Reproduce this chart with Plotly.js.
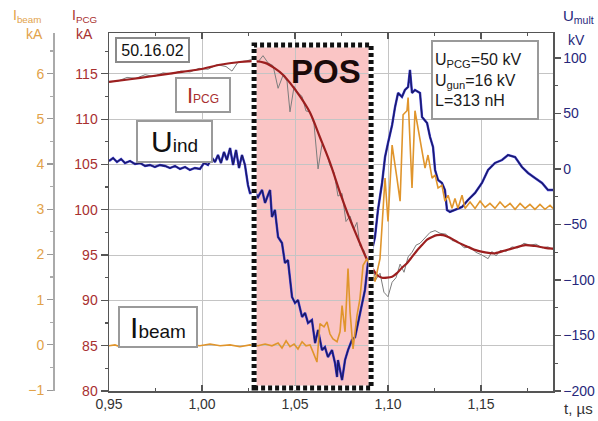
<!DOCTYPE html>
<html><head><meta charset="utf-8">
<script src="https://cdn.plot.ly/plotly-3.0.1.min.js"></script>
<style>html,body{margin:0;padding:0;background:#fff}</style>
</head><body><div id="chart" style="width:598px;height:421px"></div>
<script>
// ---- data (time in µs) ----
const uT = [0.9500,0.9522,0.9543,0.9565,0.9586,0.9613,0.9640,0.9667,0.9694,0.9720,0.9747,0.9774,0.9801,0.9828,0.9855,0.9882,0.9909,0.9935,0.9962,0.9989,
1.0011,1.0032,1.0054,1.0070,1.0086,1.0102,1.0118,1.0134,1.0151,1.0167,1.0183,1.0199,1.0215,1.0231,1.0247,1.0258,1.0285,1.0301,1.0323,1.0339,
1.0355,1.0366,1.0376,1.0392,1.0409,1.0430,1.0446,1.0462,1.0484,1.0500,1.0516,1.0538,1.0554,1.0570,1.0591,1.0608,1.0624,1.0645,1.0661,1.0677,
1.0699,1.0715,1.0726,1.0731,1.0753,1.0769,1.0785,1.0806,1.0823,1.0839,1.0860,1.0876,1.0892,1.0914,1.0930,1.0946,1.0968,1.0984,1.1000,1.1022,
1.1038,1.1054,1.1075,1.1091,1.1108,1.1118,1.1129,1.1145,1.1172,1.1183,1.1210,1.1226,1.1242,1.1253,1.1269,1.1290,1.1306,1.1317,1.1333,1.1360,
1.1398,1.1430,1.1468,1.1505,1.1538,1.1575,1.1613,1.1645,1.1683,1.1720,1.1753,1.1790,1.1828,1.1860,1.1887];
const uV = [7.2,9.9,6.3,9.0,5.4,7.2,4.5,5.4,2.7,3.6,1.8,3.6,2.7,0.9,2.7,0.0,1.8,-0.9,0.9,0.0,
5.4,3.6,9.9,6.3,12.6,5.4,15.3,8.1,18.9,3.6,17.1,0.9,12.6,3.6,-14.4,-21.6,-21.6,-25.2,-18.9,-30.6,
-23.4,-18.9,-43.2,-36.9,-61.3,-66.7,-84.7,-82.0,-115.3,-120.7,-118.0,-133.3,-129.7,-138.7,-136.0,-156.8,-145.0,-163.1,-160.4,-169.4,
-163.1,-174.8,-187.4,-172.1,-190.1,-172.1,-163.1,-154.1,-151.4,-138.7,-124.3,-109.0,-84.7,-73.0,-61.3,-36.9,-12.6,10.8,23.4,39.6,
55.9,68.5,64.9,71.2,73.9,89.2,68.5,71.2,68.5,46.8,41.4,28.8,19.8,-0.9,-9.9,-12.6,-18.9,-36.9,-38.7,-36.9,
-34.2,-27.9,-21.6,-12.6,-0.9,5.4,8.1,12.6,10.8,1.8,-3.6,-8.1,-12.6,-18.9,-18.9];

const beamT = [0.9500,0.9532,0.9559,0.9613,0.9667,0.9720,0.9774,0.9828,0.9882,0.9935,0.9989,1.0043,1.0097,1.0151,1.0204,1.0258,1.0301,1.0339,1.0376,1.0409,
1.0430,1.0452,1.0473,1.0495,1.0516,1.0538,1.0559,1.0581,1.0597,1.0618,1.0634,1.0656,1.0672,1.0688,1.0704,1.0726,1.0742,1.0753,1.0769,1.0785,
1.0796,1.0812,1.0833,1.0849,1.0866,1.0887,1.0909,1.0930,1.0957,1.0984,1.1000,1.1022,1.1048,1.1065,1.1081,1.1102,1.1108,1.1129,1.1145,1.1161,
1.1183,1.1199,1.1215,1.1237,1.1253,1.1269,1.1290,1.1306,1.1323,1.1344,1.1360,1.1376,1.1398,1.1414,1.1441,1.1468,1.1495,1.1522,1.1548,1.1575,
1.1602,1.1629,1.1656,1.1683,1.1710,1.1737,1.1763,1.1790,1.1817,1.1844,1.1871,1.1887];
const beamV = [-0.02,0.00,-0.04,0.01,-0.02,0.02,-0.02,0.00,-0.04,0.00,-0.02,0.02,-0.02,0.00,-0.04,0.00,-0.02,0.02,-0.02,0.04,
-0.07,0.09,-0.04,0.02,-0.09,0.07,-0.02,0.00,-0.16,-0.38,0.47,0.40,0.51,0.24,0.13,0.07,0.29,0.87,0.29,1.69,
0.73,-0.09,0.64,1.02,1.76,1.91,1.69,1.40,1.91,3.69,2.73,4.42,3.69,3.18,5.09,5.18,5.47,3.47,5.18,4.80,
4.36,3.91,4.20,3.69,3.76,3.47,3.53,3.18,3.31,3.02,3.24,3.02,3.31,3.02,3.16,3.02,3.18,3.04,3.13,3.02,
3.16,3.04,3.13,3.00,3.13,3.02,3.11,3.00,3.11,3.00,3.09,3.02];

const ipcgT = [0.9500,0.9613,0.9720,0.9855,0.9989,1.0097,1.0204,1.0285,1.0339,1.0392,1.0435,1.0473,1.0527,1.0581,1.0634,1.0688,1.0742,1.0796,1.0849,1.0887,
1.0914,1.0941,1.0968,1.0995,1.1022,1.1048,1.1075,1.1102,1.1129,1.1156,1.1183,1.1210,1.1237,1.1263,1.1296,1.1333,1.1376,1.1419,1.1462,1.1522,
1.1575,1.1629,1.1683,1.1737,1.1790,1.1844,1.1887];
const ipcgV = [114.1,114.4,114.7,115.1,115.5,116.0,116.3,116.4,116.2,115.6,114.9,114.0,112.5,110.7,108.0,105.2,101.9,98.9,96.3,94.5,
93.6,92.8,92.5,92.5,92.6,93.0,93.6,94.1,94.8,95.5,96.1,96.7,97.0,97.2,97.2,96.9,96.4,96.0,95.6,95.3,
95.2,95.5,95.8,96.1,96.0,95.8,95.7];

const rawT = [0.9500,0.9548,0.9597,0.9645,0.9694,0.9742,0.9790,0.9839,0.9887,0.9935,0.9984,1.0032,1.0081,1.0129,1.0161,1.0194,1.0237,1.0269,1.0301,1.0328,
1.0355,1.0382,1.0409,1.0435,1.0457,1.0473,1.0495,1.0516,1.0538,1.0559,1.0581,1.0602,1.0624,1.0645,1.0667,1.0688,1.0710,1.0731,1.0753,1.0774,
1.0796,1.0817,1.0833,1.0849,1.0871,1.0892,1.0914,1.0935,1.0957,1.0978,1.1000,1.1022,1.1043,1.1065,1.1086,1.1108,1.1129,1.1151,1.1172,1.1199,
1.1226,1.1253,1.1280,1.1312,1.1344,1.1376,1.1409,1.1441,1.1473,1.1505,1.1538,1.1559,1.1581,1.1602,1.1634,1.1667,1.1699,1.1731,1.1763,1.1796,
1.1828,1.1860,1.1887];
const rawV = [114.1,114.2,114.6,114.5,114.9,114.7,115.1,115.0,115.3,115.2,115.6,115.5,116.0,115.8,115.3,116.3,116.4,116.6,116.3,117.0,
116.2,115.9,113.4,114.8,114.2,110.8,113.6,112.9,112.5,110.9,110.8,109.5,104.5,107.2,106.4,104.9,104.1,101.5,101.8,98.7,
99.3,97.9,98.6,96.0,95.5,94.2,93.8,92.3,93.0,90.9,90.4,92.0,92.5,94.0,93.1,94.8,95.3,96.1,96.3,96.9,
97.5,97.7,97.4,97.3,96.6,96.5,95.8,95.9,95.3,95.0,94.6,95.4,94.9,95.5,95.4,95.9,95.8,96.3,96.1,96.2,
95.8,95.9,95.6];

const posStart = 1.028, posEnd = 1.0909;

// ---- layout helpers (pixel -> paper) ----
const PW = 553, PT = 33, PB = 391;
const PX = x => x / PW;
const PY = y => (PB - y) / (PB - PT);

const F = 'Liberation Sans, Arial, sans-serif';
const RED = '#a8302f', ORANGE = '#e2a24a', NAVY = '#27277a';

const traces = [
  {x: rawT, y: rawV, type: 'scatter', mode: 'lines', yaxis: 'y', line: {color: '#7d7d7d', width: 1}, hoverinfo: 'skip'},
  {x: ipcgT, y: ipcgV, type: 'scatter', mode: 'lines', yaxis: 'y', line: {color: '#9c1f1f', width: 2.2, shape: 'spline', smoothing: 0.8}},
  {x: beamT, y: beamV, type: 'scatter', mode: 'lines', yaxis: 'y3', line: {color: '#e0952c', width: 1.6}},
  {x: uT, y: uV, type: 'scatter', mode: 'lines', yaxis: 'y2', line: {color: '#3a3ad0', width: 2.4}},
  {x: uT, y: uV, type: 'scatter', mode: 'lines', yaxis: 'y2', line: {color: '#1a1a66', width: 1.3}}
];

const ann = (x, y, text, o = {}) => Object.assign({xref: 'paper', yref: 'paper', x: PX(x), y: PY(y), text, showarrow: false, xanchor: 'center', yanchor: 'middle', font: {family: F, size: 14, color: '#222'}}, o);

const annotations = [
  ann(27, 16, 'I<sub>beam</sub>', {font: {family: F, size: 14, color: ORANGE}}),
  ann(34, 34, 'kA', {font: {family: F, size: 14, color: ORANGE}}),
  ann(84, 16, 'I<sub>PCG</sub>', {font: {family: F, size: 14, color: RED}}),
  ann(84, 34, 'kA', {font: {family: F, size: 14, color: RED}}),
  ann(578, 16, 'U<sub>mult</sub>', {font: {family: F, size: 15, color: NAVY}}),
  ann(576, 40, 'kV', {font: {family: F, size: 14, color: NAVY}}),
  ann(578, 408, 't, \u00b5s', {font: {family: F, size: 15, color: '#333'}}),
  ann(152.5, 50, '50.16.02', {font: {family: F, size: 16, color: '#111'}, bgcolor: '#fff', bordercolor: '#8a8a8a', borderwidth: 2, borderpad: 1, width: 69, height: 20}),
  ann(203, 95, '<span style="font-size:22px">I</span><span style="font-size:12px">PCG</span>', {font: {family: F, size: 14, color: RED}, bgcolor: '#fff', bordercolor: '#9a9a9a', borderwidth: 2, borderpad: 1, width: 50, height: 30}),
  ann(174.5, 141.5, '<span style="font-size:30px">U</span><span style="font-size:19px">ind</span>', {font: {family: F, size: 19, color: '#111'}, bgcolor: '#fff', bordercolor: '#9a9a9a', borderwidth: 2, borderpad: 1, width: 71, height: 37}),
  ann(158, 327, '<span style="font-size:30px">I</span><span style="font-size:19px">beam</span>', {font: {family: F, size: 19, color: '#111'}, bgcolor: '#fff', bordercolor: '#9a9a9a', borderwidth: 2, borderpad: 1, width: 74, height: 36}),
  ann(326, 72, '<b>POS</b>', {font: {family: F, size: 33, color: '#1a0a0a'}}),
  ann(485, 80, 'U<sub>PCG</sub>=50 kV<br>U<sub>gun</sub>=16 kV<br>L=313 nH', {font: {family: F, size: 16, color: '#1a1a1a'}, align: 'left', bgcolor: '#fff', bordercolor: '#9a9a9a', borderwidth: 2, borderpad: 2, width: 100, height: 72})
];

const shapes = [
  {type: 'rect', xref: 'x', yref: 'paper', x0: posStart, x1: posEnd, y0: PY(388), y1: PY(45), fillcolor: 'rgba(245,150,150,0.55)', line: {width: 0}, layer: 'below'},
  {type: 'rect', xref: 'x', yref: 'paper', x0: posStart, x1: posEnd, y0: PY(388), y1: PY(45), line: {color: '#ffffff', width: 5}, layer: 'above'},
  {type: 'rect', xref: 'x', yref: 'paper', x0: posStart, x1: posEnd, y0: PY(388), y1: PY(45), line: {color: '#111', width: 5, dash: '4px,3px'}, layer: 'above'}
];

const layout = {
  width: 598, height: 421,
  margin: {l: 0, r: 45, t: 33, b: 30},
  separators: ', ',
  paper_bgcolor: '#fff', plot_bgcolor: '#fff',
  showlegend: false,
  font: {family: F, size: 14, color: '#333'},
  xaxis: {domain: [109 / PW, 1], range: [0.95, 1.1887], tick0: 0.95, dtick: 0.05, tickformat: '.2f',
    ticks: 'inside', ticklen: 6, tickcolor: '#555', tickwidth: 1.2, showline: true, linecolor: '#555', linewidth: 1.5,
    mirror: 'ticks', showgrid: true, gridcolor: '#c4c4c4', zeroline: false, automargin: false,
    minor: {dtick: 0.025, tick0: 0.95, ticks: 'inside', ticklen: 3, tickcolor: '#555', showgrid: false},
    tickfont: {family: F, size: 14, color: '#333'}},
  yaxis: {range: [80, 119.5], tick0: 80, dtick: 5, ticks: 'outside', ticklen: 7, tickcolor: '#555', tickwidth: 1.2,
    showline: true, linecolor: '#555', linewidth: 1.5, showgrid: true, gridcolor: '#c4c4c4', zeroline: false, automargin: false,
    minor: {dtick: 2.5, tick0: 80, ticks: 'outside', ticklen: 3, tickcolor: '#555', showgrid: false},
    tickfont: {family: F, size: 14, color: RED}},
  yaxis2: {overlaying: 'y', side: 'right', anchor: 'x', range: [-200, 122.5], tick0: 0, dtick: 50, ticks: 'outside', ticklen: 6,
    tickcolor: '#555', tickwidth: 1.2, showline: true, linecolor: '#555', linewidth: 1.5, showgrid: false, zeroline: false, automargin: false,
    minor: {dtick: 25, tick0: 0, ticks: 'outside', ticklen: 3, tickcolor: '#555', showgrid: false},
    tickfont: {family: F, size: 14, color: NAVY}},
  yaxis3: {overlaying: 'y', side: 'left', anchor: 'free', position: 53 / PW, range: [-1.02, 6.9], tick0: 0, dtick: 1,
    ticks: 'outside', ticklen: 6, tickcolor: '#999', tickwidth: 1.2, showline: true, linecolor: '#aaa', linewidth: 1.5,
    showgrid: false, zeroline: false, automargin: false,
    minor: {dtick: 0.5, tick0: 0, ticks: 'outside', ticklen: 3, tickcolor: '#aaa', showgrid: false},
    tickfont: {family: F, size: 14, color: ORANGE}},
  shapes, annotations
};

Plotly.newPlot('chart', traces, layout, {displayModeBar: false, staticPlot: true});
</script>
</body></html>
